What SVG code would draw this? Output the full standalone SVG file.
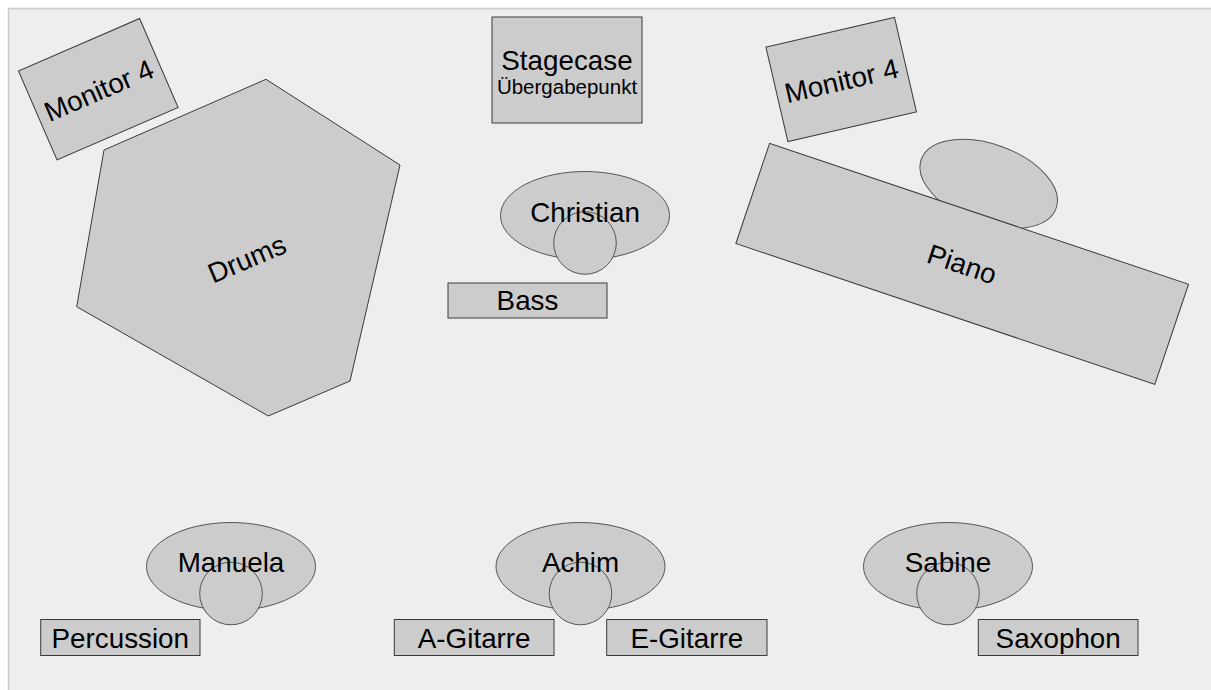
<svg xmlns="http://www.w3.org/2000/svg" width="1211" height="690" viewBox="0 0 1211 690">
<style>
  .shape { fill: #cccccc; stroke: #3a3a3a; stroke-width: 1; }
  .soft { fill: #cccccc; stroke: #555555; stroke-width: 1; }
  text { font-family: "Liberation Sans", Arial, sans-serif; fill: #000; text-anchor: middle; }
  .lbl { font-size: 27.8px; }
  .sm { font-size: 20.5px; }
</style>
<rect x="0" y="0" width="1211" height="690" fill="#ffffff"/>
<rect id="stage" x="8.5" y="8.5" width="1210" height="690" fill="#eeeeee" stroke="#cccccc" stroke-width="1.5"/>

<g id="monitor-left" transform="translate(98.3,89.2) rotate(-23.4)">
  <rect class="shape" x="-66" y="-48.5" width="132" height="97"/>
  <text class="lbl" x="0" y="11">Monitor 4</text>
</g>

<g id="drums">
  <polygon class="shape" points="266,79.3 400,165 350,381 268.3,416 76.7,306.7 104,150"/>
  <text class="lbl" transform="translate(247,259) rotate(-23)" x="0" y="9.5">Drums</text>
</g>

<g id="stagecase">
  <rect class="shape" x="492" y="17" width="150" height="106"/>
  <text class="lbl" x="567" y="69.5">Stagecase</text>
  <text class="sm" x="567" y="94">Übergabepunkt</text>
</g>

<g id="christian">
  <ellipse class="soft" cx="585" cy="215.5" rx="84.5" ry="44"/>
  <circle class="soft" cx="585" cy="243" r="31.3"/>
  <text class="lbl" x="585" y="221.5">Christian</text>
</g>

<g id="bass">
  <rect class="shape" x="448" y="283" width="159" height="35"/>
  <text class="lbl" x="527.5" y="310">Bass</text>
</g>

<g id="monitor-right" transform="translate(841.2,79.5) rotate(-13.1)">
  <rect class="shape" x="-66" y="-48.5" width="132" height="97"/>
  <text class="lbl" x="0" y="11">Monitor 4</text>
</g>

<g id="piano">
  <ellipse class="soft" cx="988.7" cy="183.8" rx="71.7" ry="39.5" transform="rotate(20 988.7 183.8)"/>
  <g transform="translate(962.2,263.8) rotate(18.6)">
    <rect class="shape" x="-221" y="-52.8" width="442" height="105.7"/>
    <text class="lbl" x="0" y="10">Piano</text>
  </g>
</g>

<g id="manuela">
  <ellipse class="soft" cx="231" cy="566.5" rx="84.5" ry="44"/>
  <circle class="soft" cx="231" cy="593.5" r="31.3"/>
  <text class="lbl" x="231" y="572">Manuela</text>
</g>

<g id="percussion">
  <rect class="shape" x="40.7" y="619.5" width="159.3" height="36"/>
  <text class="lbl" x="120.3" y="647.5">Percussion</text>
</g>

<g id="achim">
  <ellipse class="soft" cx="580.5" cy="566.5" rx="84.5" ry="44"/>
  <circle class="soft" cx="580.5" cy="593.5" r="31.3"/>
  <text class="lbl" x="580.5" y="572">Achim</text>
</g>

<g id="a-gitarre">
  <rect class="shape" x="394.3" y="619.5" width="159.7" height="36"/>
  <text class="lbl" x="474.2" y="647.5">A-Gitarre</text>
</g>

<g id="e-gitarre">
  <rect class="shape" x="606.7" y="619.5" width="160.3" height="36"/>
  <text class="lbl" x="686.8" y="647.5">E-Gitarre</text>
</g>

<g id="sabine">
  <ellipse class="soft" cx="948" cy="566.5" rx="84.5" ry="44"/>
  <circle class="soft" cx="948" cy="593.5" r="31.3"/>
  <text class="lbl" x="948" y="572">Sabine</text>
</g>

<g id="saxophon">
  <rect class="shape" x="978.3" y="619.5" width="159.7" height="36"/>
  <text class="lbl" x="1058.2" y="647.5">Saxophon</text>
</g>

<g id="connectors"/>
</svg>
